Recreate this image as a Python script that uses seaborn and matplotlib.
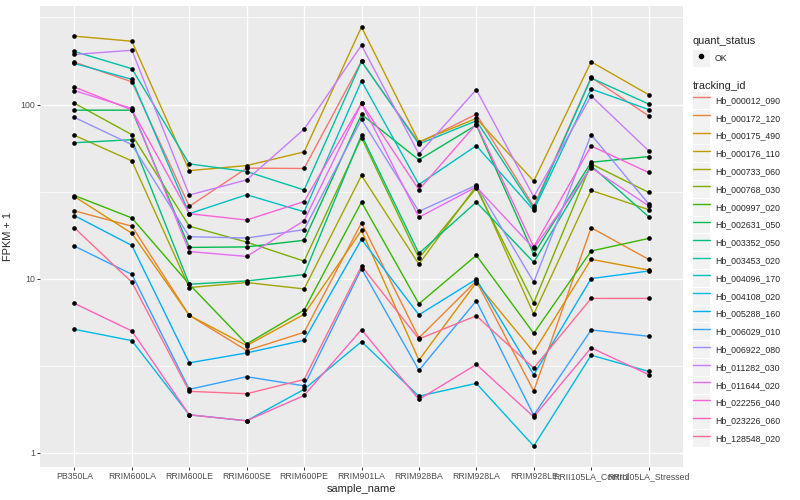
import numpy as np
import pandas as pd
import matplotlib
matplotlib.use("Agg")
import matplotlib.pyplot as plt
import seaborn as sns
from matplotlib.lines import Line2D
from matplotlib.patches import Rectangle
from matplotlib.legend_handler import HandlerLine2D
from matplotlib.ticker import FixedLocator

samples = ["PB350LA", "RRIM600LA", "RRIM600LE", "RRIM600SE", "RRIM600PE", "RRIM901LA",
           "RRIM928BA", "RRIM928LA", "RRIM928LE", "RRII105LA_Control", "RRII105LA_Stressed"]

tracking_ids = ["Hb_000012_090", "Hb_000172_120", "Hb_000175_490", "Hb_000176_110",
                "Hb_000733_060", "Hb_000768_030", "Hb_000997_020", "Hb_002631_050",
                "Hb_003352_050", "Hb_003453_020", "Hb_004096_170", "Hb_004108_020",
                "Hb_005288_160", "Hb_006029_010", "Hb_006922_080", "Hb_011282_030",
                "Hb_011644_020", "Hb_022256_040", "Hb_023226_060", "Hb_128548_020"]

# FPKM per sample (same order as samples)
hb_000012_090 = [174, 134, 25.0, 42.1, 41.9, 176, 59.3, 87.0, 25.0, 142, 85.1]
hb_000172_120 = [23.5, 19.0, 5.15, 2.86, 3.91, 19.9, 3.56, 8.69, 1.26, 18.6, 11.9]
hb_000175_490 = [28.6, 17.2, 5.15, 3.12, 5.23, 17.9, 2.40, 8.49, 2.78, 11.9, 10.2]
hb_000176_110 = [246, 230, 40.7, 43.6, 52.4, 278, 60.1, 82.2, 35.3, 175, 113]
hb_000733_060 = [65.5, 46.4, 7.88, 8.49, 7.72, 38.1, 11.1, 33.1, 5.25, 31.1, 23.9]
hb_000768_030 = [100.7, 66.1, 19.0, 15.2, 11.6, 63.5, 12.1, 32.1, 6.25, 44.6, 30.3]
hb_000997_020 = [29.0, 21.3, 8.28, 3.21, 5.59, 26.5, 6.16, 12.6, 3.85, 13.4, 16.0]
hb_002631_050 = [91.8, 91.8, 14.1, 14.2, 15.6, 86.7, 47.1, 75.2, 12.8, 45.6, 49.2]
hb_003352_050 = [59.3, 61.8, 8.28, 8.69, 9.54, 65.8, 12.95, 26.5, 11.4, 43.4, 21.7]
hb_003453_020 = [200.7, 159.6, 44.6, 40.2, 31.3, 175.8, 58.3, 79.6, 24.3, 140.9, 99.8]
hb_004096_170 = [171.2, 138.5, 22.6, 29.3, 23.2, 135.4, 33.7, 57.0, 23.7, 121.8, 92.6]
hb_004108_020 = [4.11, 3.40, 0.649, 0.524, 1.31, 3.34, 1.11, 1.50, 0.091, 2.63, 1.93]
hb_005288_160 = [22.0, 14.5, 2.28, 2.74, 3.42, 15.8, 5.19, 8.91, 1.80, 9.0, 10.05]
hb_006029_010 = [14.36, 9.58, 1.31, 1.73, 1.42, 10.41, 1.97, 6.45, 0.64, 4.07, 3.66]
hb_006922_080 = [83.3, 57.8, 16.4, 16.1, 18.1, 81.1, 23.3, 33.4, 8.53, 66.1, 25.9]
hb_011282_030 = [192.8, 204, 29.2, 35.9, 71.2, 218, 51.0, 120.8, 28.5, 111, 53.3]
hb_011644_020 = [119.2, 93.9, 13.3, 12.4, 20.5, 100.7, 21.5, 32.6, 13.9, 42.3, 25.2]
hb_022256_040 = [125, 92.1, 22.6, 20.7, 26.7, 100.7, 31.4, 76.2, 14.2, 56.8, 39.7]
hb_023226_060 = [6.20, 4.00, 0.649, 0.524, 1.13, 4.09, 1.02, 2.21, 0.606, 3.00, 1.81]
hb_128548_020 = [18.56, 8.53, 1.25, 1.18, 1.63, 10.8, 3.50, 5.11, 2.06, 6.69, 6.69]

fpkm_values = [hb_000012_090, hb_000172_120, hb_000175_490, hb_000176_110, hb_000733_060,
               hb_000768_030, hb_000997_020, hb_002631_050, hb_003352_050, hb_003453_020,
               hb_004096_170, hb_004108_020, hb_005288_160, hb_006029_010, hb_006922_080,
               hb_011282_030, hb_011644_020, hb_022256_040, hb_023226_060, hb_128548_020]

# ggplot default hue palette, 20 levels
hue_colors = ["#F8766D", "#EA8331", "#D89000", "#C09B00", "#A3A500", "#7CAE00", "#39B600",
              "#00BB4E", "#00BF7D", "#00C1A3", "#00BFC4", "#00BAE0", "#00B0F6", "#35A2FF",
              "#9590FF", "#C77CFF", "#E76BF3", "#FA62DB", "#FF62BC", "#FF6C91"]

rows = []
for tid, vals in zip(tracking_ids, fpkm_values):
    for s, v in zip(samples, vals):
        rows.append({"tracking_id": tid, "sample_name": s, "fpkm": v, "quant_status": "OK"})
df = pd.DataFrame(rows)
df["FPKM + 1"] = df["fpkm"] + 1
df["x"] = df["sample_name"].map({s: i for i, s in enumerate(samples)})


class KeyBoxHandler(HandlerLine2D):
    # grey box behind each legend key, like ggplot
    def create_artists(self, legend, orig_handle, xdescent, ydescent, width, height, fontsize, trans):
        box = Rectangle((-xdescent, -ydescent), width, height, facecolor="#F2F2F2",
                        edgecolor="none", transform=trans)
        artists = super().create_artists(legend, orig_handle, xdescent, ydescent, width, height, fontsize, trans)
        return [box] + list(artists)


sns.set_theme(style="darkgrid")
plt.rcParams["font.family"] = ["Liberation Sans", "DejaVu Sans"]

fig = plt.figure(figsize=(8, 5), dpi=100)
ax = fig.add_axes([0.05, 0.066, 0.80375, 0.922])
ax.set_facecolor("#EBEBEB")

sns.lineplot(data=df, x="x", y="FPKM + 1", hue="tracking_id", hue_order=tracking_ids,
             palette=hue_colors, estimator=None, lw=1.0, legend=False, ax=ax)
sns.scatterplot(data=df, x="x", y="FPKM + 1", color="black", s=11, linewidth=0,
                legend=False, ax=ax, zorder=3)

ax.set_yscale("log")
lo = np.log10(df["FPKM + 1"].min())
hi = np.log10(df["FPKM + 1"].max())
pad = (hi - lo) * 0.05
ax.set_ylim(10 ** (lo - pad), 10 ** (hi + pad))
ax.set_xlim(-0.6, len(samples) - 0.4)

ax.set_yticks([1, 10, 100], ["1", "10", "100"])
ax.yaxis.set_minor_locator(FixedLocator([10 ** 0.5, 10 ** 1.5, 10 ** 2.5]))
ax.set_xticks(range(len(samples)), samples)
ax.grid(False)
ax.grid(True, which="major", color="white", lw=1.0)
ax.grid(True, which="minor", axis="y", color="white", lw=0.5)
for sp in ax.spines.values():
    sp.set_visible(False)
ax.tick_params(axis="both", which="major", length=2, width=0.7, color="#333333",
               labelcolor="#4D4D4D", labelsize=6.3, pad=1.6, bottom=True, left=True)
ax.tick_params(axis="y", which="minor", length=0)
ax.set_axisbelow(True)

ax.set_xlabel("sample_name", fontsize=7.9, labelpad=2)
ax.set_ylabel("FPKM + 1", fontsize=7.9, labelpad=5)

# legends
h1 = [Line2D([], [], marker="o", color="black", ls="none", markersize=3)]
leg1 = fig.legend(h1, ["OK"], title="quant_status", loc="upper left", bbox_to_anchor=(0.866, 0.928),
                  frameon=False, fontsize=6.3, title_fontsize=7.9, handler_map={Line2D: KeyBoxHandler()},
                  handlelength=1.95, handleheight=2.6, handletextpad=0.6, borderaxespad=0,
                  borderpad=0, alignment="left")
h2 = [Line2D([], [], color=c, lw=1.0) for c in hue_colors]
leg2 = fig.legend(h2, tracking_ids, title="tracking_id", loc="upper left", bbox_to_anchor=(0.866, 0.838),
                  frameon=False, fontsize=6.3, title_fontsize=7.9, handler_map={Line2D: KeyBoxHandler()},
                  handlelength=1.95, handleheight=2.6, handletextpad=0.6, borderaxespad=0,
                  borderpad=0, labelspacing=0.1, alignment="left")

fig.savefig("out.png", dpi=100)
